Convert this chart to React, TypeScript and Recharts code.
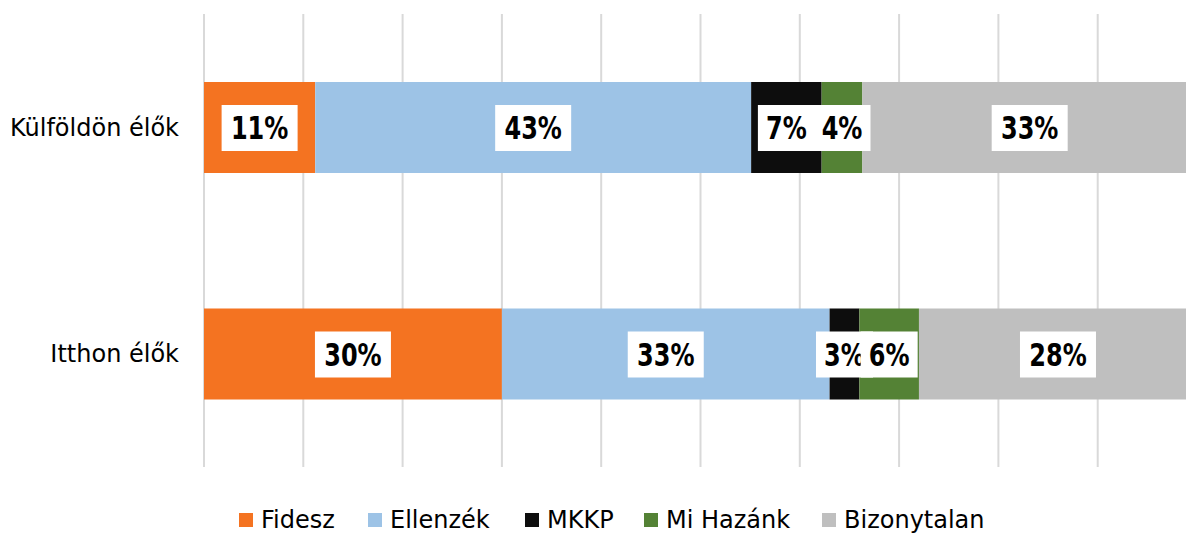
import { Bar, BarChart, CartesianGrid, LabelList, XAxis, YAxis } from "recharts";

const categories = ["Külföldön élők", "Itthon élők"];
const fidesz = [11.2, 30];
const ellenzek = [43.9, 33];
const mkkp = [7.1, 3];
const miHazank = [4.1, 6];
const bizonytalan = [33.7, 28];
const xTicks = [0, 10, 20, 30, 40, 50, 60, 70, 80, 90, 100];

const series = [
  { key: "fidesz", name: "Fidesz", color: "#F47321", values: fidesz },
  { key: "ellenzek", name: "Ellenzék", color: "#9DC3E6", values: ellenzek },
  { key: "mkkp", name: "MKKP", color: "#0D0D0D", values: mkkp },
  { key: "miHazank", name: "Mi Hazánk", color: "#548235", values: miHazank },
  { key: "bizonytalan", name: "Bizonytalan", color: "#BFBFBF", values: bizonytalan },
];

const data = categories.map((name, i) => {
  const row: Record<string, string | number> = { name };
  series.forEach((s) => (row[s.key] = s.values[i]));
  return row;
});

const FONT = "'DejaVu Sans', Verdana, sans-serif";

function BoxLabel(props: any) {
  const { x, y, width, height, value } = props;
  if (value == null) return null;
  const text = `${Math.floor(Number(value))}%`;
  const cx = Number(x) + Number(width) / 2;
  const cy = Number(y) + Number(height) / 2;
  const w = 19 * (text.length + 1);
  return (
    <g>
      <rect x={cx - w / 2} y={cy - 22.5} width={w} height={46} fill="#fff" />
      <text
        x={0}
        y={0}
        transform={`translate(${cx},${cy + 1}) scale(0.75,1)`}
        textAnchor="middle"
        dominantBaseline="central"
        fontFamily={FONT}
        fontWeight="bold"
        fontSize={32}
        fill="#000"
      >
        {text}
      </text>
    </g>
  );
}

// legend item slot widths (square start to next square start)
const legendSlots = [129, 157, 119, 178, 180];

export default function App() {
  return (
    <div
      style={{
        position: "absolute",
        left: 0,
        top: 0,
        width: 1186,
        height: 534,
        overflow: "hidden",
        background: "#fff",
      }}
    >
      <BarChart
        width={1197}
        height={534}
        data={data}
        layout="vertical"
        margin={{ top: 14, right: 0, left: 0, bottom: 67 }}
      >
        <CartesianGrid horizontal={false} stroke="#D9D9D9" strokeWidth={2} />
        <XAxis type="number" domain={[0, 100]} ticks={xTicks} hide />
        <YAxis
          type="category"
          dataKey="name"
          width={204}
          axisLine={false}
          tickLine={false}
          tickSize={0}
          tickMargin={25}
          tick={{ fontFamily: FONT, fontSize: 24, fill: "#000" }}
        />
        {series.map((s) => (
          <Bar
            key={s.key}
            dataKey={s.key}
            name={s.name}
            stackId="a"
            fill={s.color}
            barSize={91}
            isAnimationActive={false}
          >
            <LabelList dataKey={s.key} content={BoxLabel} />
          </Bar>
        ))}
      </BarChart>
      <div
        style={{
          position: "absolute",
          left: 239,
          top: 506,
          display: "flex",
          alignItems: "center",
          fontFamily: FONT,
          fontSize: 24,
          lineHeight: "28px",
          color: "#000",
          whiteSpace: "nowrap",
        }}
      >
        {series.map((s, i) => (
          <span
            key={s.key}
            style={{ display: "inline-flex", alignItems: "center", gap: 8, width: legendSlots[i] }}
          >
            <span style={{ display: "inline-block", width: 14, height: 14, background: s.color }} />
            {s.name}
          </span>
        ))}
      </div>
    </div>
  );
}
